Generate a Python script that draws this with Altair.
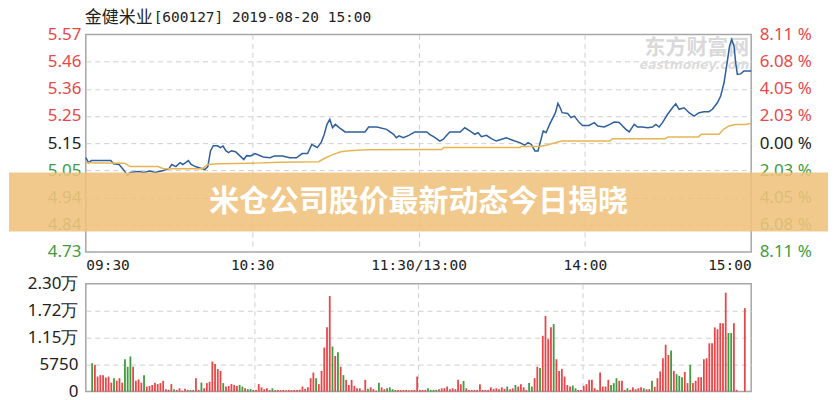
import json
import altair as alt
import pandas as pd

# ---------------- text ----------------
title_cn = "金健米业"
title_rest = "[600127] 2019-08-20 15:00"
banner_text = "米仓公司股价最新动态今日揭晓"
wm_cn = "东方财富网"
wm_en = "eastmoney.com"

# ---------------- axes ----------------
prev_close = 5.15
pct_limit = 0.0811
time_ticks = [0, 60, 120, 180, 240]
time_labels = ["09:30", "10:30", "11:30/13:00", "14:00", "15:00"]
price_labels = ["4.73", "4.84", "4.94", "5.05", "5.15", "5.25", "5.36", "5.46", "5.57"]
pct_labels = ["8.11 %", "6.08 %", "4.05 %", "2.03 %", "0.00 %", "2.03 %", "4.05 %", "6.08 %", "8.11 %"]
vol_ticks = [0, 5750, 11500, 17250, 23000]
vol_labels = ["0", "5750", "1.15万", "1.72万", "2.30万"]

# ---------------- price line (minute since open, price) ----------------
price_t = [0, 1, 2, 4, 9, 10, 12, 13.5, 15, 16, 19, 21, 23, 25, 28, 30, 31, 32.5, 34, 35,
           37, 38, 39.5, 42, 43, 44, 45, 46, 47.5, 48.5, 49.5, 50.5, 51.5, 52.5, 54, 55.5, 57, 58,
           59.5, 61, 64, 66.5, 68, 71, 73.5, 76, 78, 80, 81.5, 82.5, 83.5, 85, 86, 87, 88, 89, 90,
           91.5, 93.5, 100.7, 102, 105, 108.5, 111, 112, 113, 114.5, 116.5, 118.7, 123, 124, 126,
           127.7, 129, 130, 131.3, 135, 136.7, 138.5, 140.3, 141.5, 142.7, 144.5, 146.3, 148, 150,
           151.7, 153, 154.7, 156.5, 158.3, 159.5, 160.7, 162, 163.1, 163.7, 165, 166, 167.3, 168.5,
           169.4, 170.3, 171.1, 171.8, 173.8, 175, 176.2, 178, 179.2, 181.5, 183.4, 184.7, 187, 189,
           190.6, 192.4, 193.6, 194.8, 196, 196.6, 197.8, 199, 200.8, 202.6, 204.4, 205.6, 206.8,
           208, 209.8, 211.6, 212.8, 214, 215.8, 217.6, 219.4, 221.2, 223, 224.8, 226, 227.8, 229,
           230.2, 231.4, 232.2, 233, 233.8, 234.4, 235, 236.2, 237.4, 240]
price_v = [5.094, 5.075, 5.083, 5.083, 5.083, 5.071, 5.068, 5.049, 5.026, 5.037, 5.041, 5.037,
           5.043, 5.037, 5.045, 5.052, 5.068, 5.060, 5.075, 5.068, 5.083, 5.068, 5.060, 5.052,
           5.049, 5.060, 5.121, 5.140, 5.140, 5.133, 5.139, 5.121, 5.114, 5.121, 5.117, 5.102,
           5.087, 5.102, 5.101, 5.110, 5.097, 5.094, 5.101, 5.101, 5.094, 5.094, 5.110, 5.110,
           5.145, 5.139, 5.133, 5.155, 5.184, 5.222, 5.241, 5.209, 5.222, 5.209, 5.193, 5.193,
           5.212, 5.212, 5.203, 5.184, 5.171, 5.178, 5.171, 5.180, 5.193, 5.193, 5.184, 5.171,
           5.158, 5.165, 5.178, 5.193, 5.193, 5.209, 5.197, 5.184, 5.190, 5.175, 5.180, 5.167,
           5.158, 5.165, 5.171, 5.165, 5.158, 5.152, 5.142, 5.152, 5.145, 5.120, 5.120, 5.145,
           5.197, 5.190, 5.222, 5.248, 5.267, 5.303, 5.286, 5.267, 5.264, 5.248, 5.254, 5.229,
           5.218, 5.218, 5.229, 5.216, 5.212, 5.222, 5.231, 5.229, 5.216, 5.203, 5.193, 5.203,
           5.222, 5.212, 5.212, 5.209, 5.212, 5.222, 5.212, 5.229, 5.260, 5.286, 5.301, 5.280,
           5.286, 5.267, 5.254, 5.267, 5.271, 5.271, 5.280, 5.305, 5.331, 5.382, 5.465, 5.523,
           5.548, 5.523, 5.459, 5.414, 5.416, 5.427, 5.427]

# ---------------- average price line ----------------
avg_t = [0, 14, 16, 26, 28, 42, 44, 48, 60, 70, 84, 86, 89, 92, 95, 101, 124, 128.5, 129,
         156.5, 157, 163.7, 166, 168, 171, 172, 189, 190, 209, 210, 221, 222, 228.4, 230, 232,
         234.4, 238, 240]
avg_v = [5.075, 5.073, 5.060, 5.060, 5.052, 5.052, 5.068, 5.071, 5.073, 5.077, 5.079, 5.091,
         5.106, 5.117, 5.121, 5.125, 5.126, 5.126, 5.133, 5.133, 5.137, 5.137, 5.142, 5.148,
         5.156, 5.158, 5.158, 5.167, 5.167, 5.174, 5.174, 5.184, 5.184, 5.203, 5.216, 5.222,
         5.222, 5.226]

# ---------------- volume per minute (shares) and direction ----------------
volume = [6050, 5700, 3200, 3500, 3500, 3000, 3200, 1900, 2850, 2300,
          2850, 1900, 6900, 5300, 7500, 5300, 2300, 2600, 1900, 3500,
          1070, 1200, 1400, 1900, 1600, 1800, 2300, 500, 350, 1600,
          500, 350, 700, 200, 570, 350, 350, 350, 2850, 350,
          1900, 700, 1800, 2100, 6400, 5900, 4800, 4400, 1800, 1070,
          1200, 1600, 1400, 1200, 1400, 1070, 700, 500, 570, 350,
          350, 1600, 900, 500, 700, 350, 700, 350, 350, 300,
          350, 300, 350, 300, 350, 350, 400, 1070, 570, 900,
          2850, 4050, 2850, 1600, 4400, 9400, 13700, 20400, 9600, 7600,
          8400, 5300, 3500, 2500, 1400, 2500, 1200, 700, 700, 250,
          2500, 570, 900, 500, 200, 1900, 900, 500, 700, 900,
          500, 350, 350, 300, 350, 350, 300, 350, 350, 3200,
          350, 350, 350, 700, 350, 350, 350, 500, 700, 700,
          1070, 500, 700, 500, 2500, 1560, 2280, 700, 350, 350,
          350, 350, 1560, 350, 350, 350, 900, 570, 700, 500,
          900, 570, 1070, 500, 700, 1400, 1070, 1560, 900, 350,
          1800, 1070, 2850, 5300, 5000, 11900, 16150, 11200, 13700, 14400,
          6900, 4400, 4800, 3200, 1400, 1070, 1300, 700, 350, 350,
          1200, 1560, 2500, 2500, 700, 350, 4050, 1070, 1070, 2500,
          1400, 1800, 2850, 2300, 2300, 350, 700, 350, 900, 500,
          700, 900, 700, 500, 500, 2300, 1000, 2850, 4300, 7100,
          10000, 7800, 8750, 4400, 3700, 3350, 3060, 4200, 1800, 5700,
          1800, 2300, 3060, 3060, 6900, 7100, 10300, 10300, 13700, 13300,
          14600, 14600, 21100, 12500, 12500, 14600, 350, 0, 0, 17800]
vol_dir = list("grrrrrrrgr" "rrgggrrrrg" "rrrrrrrrrr" "grrrrrgrrr"
               "grrrrrrrgr" "rrrrggrggr" "rrrrrrgrrr" "rrrrrrrrrr"
               "rrgrrrrrgr" "grgrrrrrrr" "rgrrrgrrgg" "grrrrrrrrr"
               "rrrggggrrr" "rrrrrrgrrr" "rrrrrrrrrr" "rrgrrgrrrr"
               "ggrrgrrrrg" "rrrrrrggrr" "rrrrrrrrrr" "gggrrrgrrr"
               "rrgrrgrrrr" "rrgrgggrrg" "rrrrrrrrrr" "rrrggrrrrr")

RED = "#e8474a"
GREEN = "#3f9c3f"
BLUE = "#2d5f9e"
ORANGE = "#e6b552"
GRID = "#cfcfcf"

lo = prev_close * (1 - pct_limit)
hi = prev_close * (1 + pct_limit)
step = (hi - lo) / 8
price_ticks = [lo + k * step for k in range(9)]

price_df = pd.DataFrame({"t": price_t, "p": price_v})
avg_df = pd.DataFrame({"t": avg_t, "p": avg_v})
vol_df = pd.DataFrame({"t": [i + 0.5 for i in range(len(volume))], "v": volume, "d": vol_dir[:len(volume)]})
one = pd.DataFrame({"a": [0]})

label_color = {
    "condition": [
        {"test": f"datum.value > {prev_close + 0.01}", "value": RED},
        {"test": f"datum.value < {prev_close - 0.01}", "value": GREEN},
    ],
    "value": "#222222",
}
price_grid = {"condition": {"test": f"datum.value < {lo + 0.01} || datum.value > {hi - 0.01}",
                            "value": "transparent"}, "value": GRID}
time_grid = {"condition": {"test": "datum.value <= 0 || datum.value >= 240", "value": "transparent"},
             "value": GRID}
vol_grid = {"condition": {"test": "datum.value <= 0 || datum.value >= 23000", "value": "transparent"},
            "value": GRID}

idx_expr = f"round((datum.value - {lo}) / {step})"
x_scale = alt.Scale(domain=[0, 240], nice=False, zero=False)
y_scale = alt.Scale(domain=[lo, hi], nice=False, zero=False)

x_axis = alt.Axis(values=time_ticks, labelExpr=f"{json.dumps(time_labels)}[indexof({json.dumps(time_ticks)}, datum.value)]",
                  labelFlush=True, labelFont="DejaVu Sans Mono", labelFontSize=14.5, labelColor="#222222",
                  labelPadding=7, grid=True, gridColor=time_grid, gridDash=[5, 4], ticks=False, domain=False,
                  title=None)

left_axis = alt.Axis(values=price_ticks, labelExpr=f"{json.dumps(price_labels)}[{idx_expr}]",
                     labelColor=label_color, labelFont="Noto Sans", labelFontSize=17, labelPadding=5,
                     grid=True, gridColor=price_grid, gridDash=[5, 4], ticks=False, domain=False, title=None)
right_axis = alt.Axis(orient="right", values=price_ticks, labelExpr=f"{json.dumps(pct_labels[::-1])}[{idx_expr}]",
                      labelColor=label_color, labelFont="Noto Sans", labelFontSize=17, labelPadding=8,
                      grid=False, ticks=False, domain=False, title=None)

wm1 = alt.Chart(one).mark_text(text=wm_cn, align="right", baseline="middle", font="Noto Sans CJK SC",
                               fontSize=21, fontWeight="bold", color="#d9d9d9").encode(
    x=alt.value(665), y=alt.value(14))
wm2 = alt.Chart(one).mark_text(text=wm_en, align="right", baseline="middle", font="DejaVu Sans",
                               fontSize=12.5, fontWeight="bold", fontStyle="italic", color="#dcdcdc").encode(
    x=alt.value(665), y=alt.value(31))

price_line = alt.Chart(price_df).mark_line(color=BLUE, strokeWidth=1.5).encode(
    x=alt.X("t:Q", scale=x_scale, axis=x_axis),
    y=alt.Y("p:Q", scale=y_scale, axis=left_axis),
)
avg_line = alt.Chart(avg_df).mark_line(color=ORANGE, strokeWidth=1.5).encode(
    x=alt.X("t:Q", scale=x_scale, axis=x_axis),
    y=alt.Y("p:Q", scale=y_scale, axis=right_axis),
)

banner = alt.Chart(one).mark_rect(color="#efc27d", opacity=0.88).encode(
    x=alt.value(-77), x2=alt.value(744), y=alt.value(138.5), y2=alt.value(197.5))
banner_txt = alt.Chart(one).mark_text(text=banner_text, align="center", baseline="middle",
                                      font="Noto Sans CJK SC", fontSize=30, fontWeight="bold",
                                      color="white").encode(x=alt.value(333.5), y=alt.value(168.5))

title1 = alt.Chart(one).mark_text(text=title_cn, align="left", baseline="middle", font="Noto Sans CJK SC",
                                  fontSize=17, color="#222222").encode(x=alt.value(-1), y=alt.value(-16))
title2 = alt.Chart(one).mark_text(text=title_rest, align="left", baseline="middle", font="DejaVu Sans Mono",
                                  fontSize=14.5, color="#222222").encode(x=alt.value(68), y=alt.value(-16))

price_chart = alt.layer(wm1, wm2, price_line, avg_line, banner, banner_txt, title1, title2).resolve_scale(
    y="independent").properties(width=667, height=218)

vol_chart = alt.Chart(vol_df).mark_bar(size=1.8).encode(
    x=alt.X("t:Q", scale=x_scale,
            axis=alt.Axis(values=time_ticks, labels=False, grid=True, gridColor=time_grid, gridDash=[5, 4],
                          ticks=False, domain=False, title=None)),
    y=alt.Y("v:Q", scale=alt.Scale(domain=[0, 23000], nice=False),
            axis=alt.Axis(values=vol_ticks,
                          labelExpr=f"{json.dumps(vol_labels)}[indexof({json.dumps(vol_ticks)}, datum.value)]",
                          labelFont="Noto Sans", labelFontSize=17, labelColor="#222222", labelPadding=8,
                          grid=True, gridColor=vol_grid, gridDash=[5, 4], ticks=False, domain=False,
                          title=None)),
    color=alt.Color("d:N", scale=alt.Scale(domain=["r", "g"], range=[RED, GREEN]), legend=None),
).properties(width=667, height=108)

chart = alt.vconcat(price_chart, vol_chart, spacing=0).properties(padding=0).configure_view(
    stroke="#a6a6a6", strokeWidth=1.5)

chart.save("out.html", embed_options={"renderer": "svg", "actions": False})
